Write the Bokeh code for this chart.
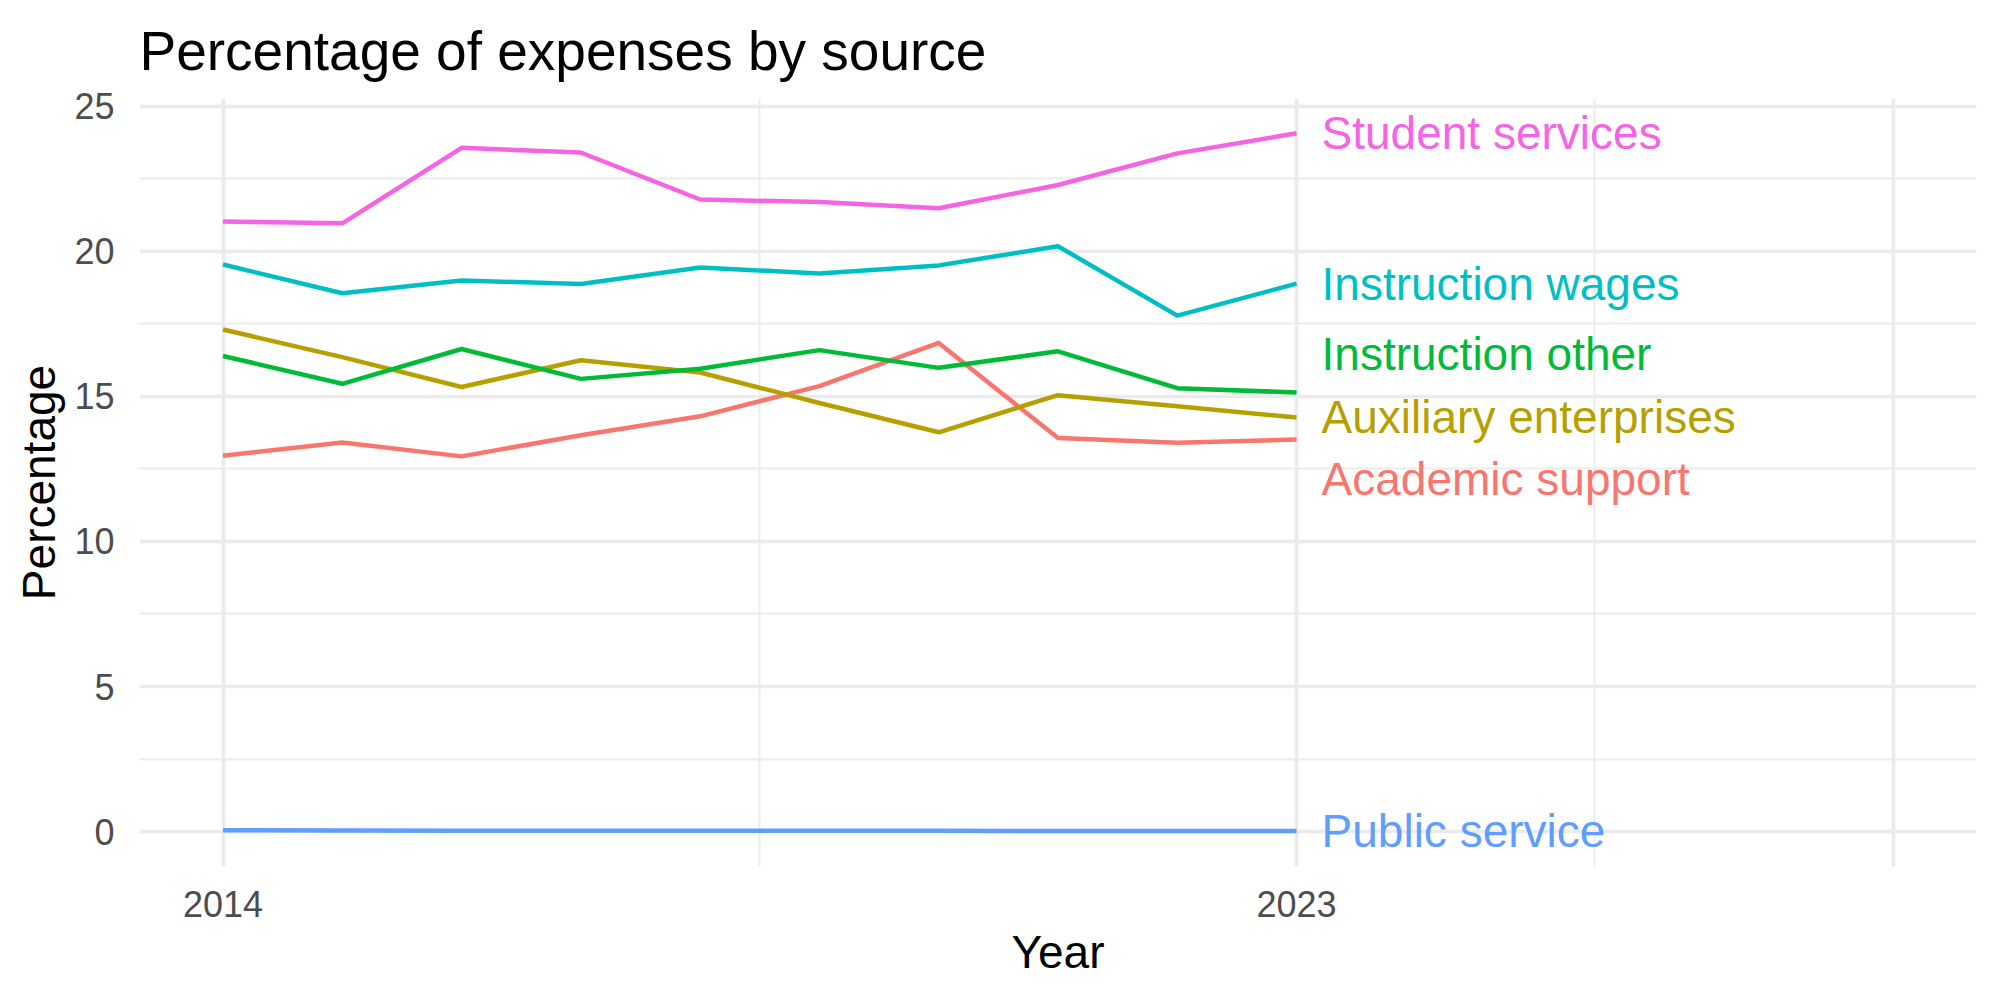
from bokeh.plotting import figure
from bokeh.models import Range1d, FixedTicker, ColumnDataSource
from bokeh.embed import file_html
from bokeh.resources import INLINE
from bokeh.core.properties import value

# Share of expenses by source, 2014-2023 (percent)
years = [2014, 2015, 2016, 2017, 2018, 2019, 2020, 2021, 2022, 2023]
academic_support = [12.95, 13.41, 12.93, 13.66, 14.31, 15.35, 16.84, 13.56, 13.40, 13.51]
auxiliary_enterprises = [17.30, 16.35, 15.32, 16.24, 15.82, 14.77, 13.76, 15.04, 14.66, 14.27]
instruction_other = [16.39, 15.43, 16.63, 15.60, 15.95, 16.59, 15.98, 16.55, 15.28, 15.13]
instruction_wages = [19.54, 18.55, 18.99, 18.87, 19.44, 19.23, 19.51, 20.17, 17.78, 18.88]
public_service = [0.05, 0.04, 0.03, 0.03, 0.03, 0.03, 0.03, 0.02, 0.02, 0.02]
student_services = [21.02, 20.96, 23.56, 23.40, 21.78, 21.69, 21.48, 22.28, 23.37, 24.06]

sources = ["Academic support", "Auxiliary enterprises", "Instruction other",
           "Instruction wages", "Public service", "Student services"]
series = [academic_support, auxiliary_enterprises, instruction_other,
          instruction_wages, public_service, student_services]
palette = ["#F8766D", "#B79F00", "#00BA38", "#00BFC4", "#619CFF", "#F564E3"]

x_ticks = [2014, 2023]
x_grid_major = [2014, 2023, 2028]
x_grid_minor = [2018.5, 2025.5]
y_ticks = [0, 5, 10, 15, 20, 25]
y_grid_minor = [2.5, 7.5, 12.5, 17.5, 22.5]

FONT = "Liberation Sans"
GRID = "#EBEBEB"


def spread_labels(targets, gap):
    """Push end labels apart so that neighbours are at least `gap` apart."""
    order = sorted(range(len(targets)), key=lambda i: targets[i])
    clusters = [[i] for i in order]

    def layout(cl):
        mean = sum(targets[i] for i in cl) / len(cl)
        n = len(cl)
        return [mean + (k - (n - 1) / 2) * gap for k in range(n)]

    merged = True
    while merged:
        merged = False
        for c in range(len(clusters) - 1):
            lo = layout(clusters[c])[-1]
            hi = layout(clusters[c + 1])[0]
            if hi - lo < gap:
                clusters[c] = clusters[c] + clusters[c + 1]
                del clusters[c + 1]
                merged = True
                break
    pos = [0.0] * len(targets)
    for cl in clusters:
        for i, y in zip(cl, layout(cl)):
            pos[i] = y
    return pos


p = figure(
    width=2000, height=1000,
    x_range=Range1d(2013.3, 2028.7),
    y_range=Range1d(-1.2, 25.26),
    output_backend="svg", toolbar_location=None,
    min_border_left=139, min_border_right=24,
    min_border_top=98, min_border_bottom=134,
    background_fill_color="white", border_fill_color="white",
)
p.outline_line_color = None

# title
p.title.text = "Percentage of expenses by source"
p.title.text_font = FONT
p.title.text_font_size = "55px"
p.title.text_font_style = "normal"
p.title.text_color = "black"
p.title.text_line_height = 0.9
p.title.align = "left"
p.title.standoff = 34

# axes
for ax in (p.xaxis[0], p.yaxis[0]):
    ax.axis_line_color = None
    ax.major_tick_line_color = None
    ax.minor_tick_line_color = None
    ax.major_label_text_font = FONT
    ax.major_label_text_font_size = "36px"
    ax.major_label_text_color = "#4D4D4D"
    ax.axis_label_text_font = FONT
    ax.axis_label_text_font_size = "46px"
    ax.axis_label_text_font_style = "normal"
    ax.axis_label_text_color = "black"

p.xaxis.axis_label = "Year"
p.xaxis.ticker = FixedTicker(ticks=x_ticks)
p.xaxis.major_label_standoff = 18
p.xaxis.axis_label_standoff = 6

p.yaxis.axis_label = "Percentage"
p.yaxis.ticker = FixedTicker(ticks=y_ticks)
p.yaxis.major_label_standoff = 19
p.yaxis.axis_label_standoff = 6

# grid
p.xgrid.ticker = FixedTicker(ticks=x_grid_major, minor_ticks=x_grid_minor)
p.ygrid.ticker = FixedTicker(ticks=y_ticks, minor_ticks=y_grid_minor)
for g in (p.xgrid[0], p.ygrid[0]):
    g.grid_line_color = GRID
    g.grid_line_width = 3.6
    g.minor_grid_line_color = GRID
    g.minor_grid_line_width = 1.8

# lines
for name, vals, col in zip(sources, series, palette):
    p.line(years, vals, line_color=col, line_width=4.5, line_join="round")

# end labels
ends = [s[-1] for s in series]
label_y = spread_labels(ends, 2.16)
label_src = ColumnDataSource(dict(
    x=[years[-1]] * len(sources), y=label_y, text=sources, color=palette))
p.text(x="x", y="y", text="text", source=label_src, text_color="color",
       text_font=value(FONT), text_font_size="46px",
       text_baseline="middle", text_align="left",
       x_offset=25, y_offset=0)

open("out.html", "w").write(file_html(p, INLINE))
